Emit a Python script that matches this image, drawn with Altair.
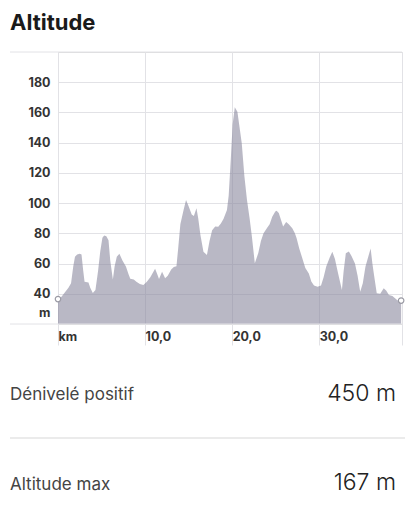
import altair as alt
import pandas as pd

# Elevation profile (distance in km, altitude in m)
km = [0.0, 0.4, 0.8, 1.2, 1.5, 1.75, 1.95, 2.2, 2.5, 2.7, 2.9, 3.05, 3.5, 3.7, 4.0, 4.3, 4.6, 4.85,
      5.1, 5.3, 5.55, 5.8, 6.0, 6.3, 6.5, 6.75, 7.05, 7.4, 7.8, 8.1, 8.3, 8.7, 9.0, 9.4, 9.8, 10.2,
      10.6, 11.15, 11.4, 11.6, 11.95, 12.3, 12.6, 13.0, 13.3, 13.6, 13.8, 14.05, 14.4, 14.7, 15.0,
      15.35, 15.6, 15.9, 16.1, 16.35, 16.7, 17.1, 17.4, 17.7, 18.05, 18.4, 18.7, 19.0, 19.4, 19.6,
      19.85, 20.05, 20.3, 20.6, 20.85, 21.1, 21.4, 21.7, 22.0, 22.26, 22.6, 23.0, 23.3, 23.6, 24.0,
      24.3, 24.6, 24.95, 25.1, 25.35, 25.6, 25.85, 26.2, 26.5, 26.9, 27.2, 27.4, 27.7, 28.0, 28.4,
      28.8, 29.1, 29.4, 29.8, 30.2, 30.5, 30.8, 31.2, 31.5, 31.8, 32.1, 32.6, 32.8, 33.05, 33.4,
      33.7, 34.1, 34.4, 34.7, 35.0, 35.3, 35.6, 35.9, 36.1, 36.3, 36.6, 37.0, 37.4, 37.7, 38.0,
      38.4, 38.7, 39.0, 39.4]
alt_m = [36.5, 38, 41, 44, 47, 58, 64.5, 66, 66.5, 66, 55, 48, 47.5, 44, 40.5, 42.5, 55, 68,
         77, 78.5, 78, 75.5, 62, 49.5, 58, 64.5, 66.5, 62, 58, 53, 50, 49.5, 48, 46.5, 45.8, 48,
         51, 56.5, 53, 49.8, 54.6, 50.2, 52, 56, 57.8, 58.2, 70, 86, 95, 102, 98,
         92.5, 91.5, 96.6, 90, 79, 67.8, 65.7, 75, 82, 84.6, 84.4, 86.5, 89.5, 95.4, 105,
         130, 152, 163.5, 160.5, 150, 139.6, 118, 102, 90, 78, 60.2, 67, 75, 80, 83.5,
         86, 91, 94.5, 95, 93.5, 89, 84.5, 87.5, 86, 83.3, 80, 76.7, 70, 64.5, 57,
         53.5, 48, 45.5, 44.7, 45.5, 51, 58, 64, 67.8, 63, 55, 42.5, 55, 66.8, 68,
         65, 60, 52, 41.4, 47, 57.9, 64, 70, 60, 52, 40.3, 40, 43.6, 42, 39.2,
         38.5, 37, 35.5, 35.5]

x_ticks = [0, 10, 20, 30, 39.5]
y_ticks = [27.3, 40, 60, 80, 100, 120, 140, 160, 180]

title_text = ["Altitude"]
stat_labels = ["Dénivelé positif", "Altitude max"]
stat_values = ["450 m", "167 m"]

W, H = 344, 272
FONT = "Inter"
GRID = "#e2e2e6"

prof = pd.DataFrame({"km": km, "alt": alt_m})
ends = prof.iloc[[0, -1]]

xs = alt.Scale(domain=[0, 39.5], nice=False, zero=False)
ys = alt.Scale(domain=[20, 200], nice=False, zero=False)

x_axis = alt.Axis(
    values=x_ticks, title=None, domain=False, grid=True, gridColor=GRID,
    ticks=True, tickSize=21, tickColor=GRID, labelPadding=-15,
    labelAlign="left", labelFont=FONT, labelFontSize=12.5,
    labelFontWeight="bold", labelColor="#333333", labelOverlap=False,
    labelExpr="datum.value == 0 ? ' km' : (datum.value > 39 ? '' : ' ' + replace(format(datum.value, '.1f'), '.', ','))")
y_axis = alt.Axis(
    values=y_ticks, title=None, domain=False, grid=True, gridColor=GRID,
    gridOpacity=alt.condition("datum.value < 30", alt.value(0), alt.value(1)),
    ticks=False, labelPadding=8, labelFont=FONT, labelFontSize=12.5,
    labelFontWeight="bold", labelColor="#333333", labelOverlap=False,
    labelExpr="datum.value < 30 ? 'm' : datum.label")

area = alt.Chart(prof).mark_area(color="#8a889e", opacity=0.6, interpolate="linear", clip=True).encode(
    x=alt.X("km:Q", scale=xs, axis=x_axis),
    y=alt.Y("alt:Q", scale=ys, axis=y_axis),
    y2=alt.datum(20),
)

points = alt.Chart(ends).mark_point(filled=True, fill="white", stroke="#9a9aa4",
                                    strokeWidth=1.2, size=30, opacity=1).encode(
    x=alt.X("km:Q", scale=xs, axis=x_axis), y=alt.Y("alt:Q", scale=ys, axis=y_axis))

top_line = alt.Chart(pd.DataFrame({"a": [0]})).mark_rule(color=GRID, strokeWidth=1).encode(
    x=alt.value(-48), x2=alt.value(W), y=alt.value(0))
bottom_line = alt.Chart(pd.DataFrame({"a": [0]})).mark_rule(color=GRID, strokeWidth=1).encode(
    x=alt.value(-48), x2=alt.value(W), y=alt.value(H))
sep_line = alt.Chart(pd.DataFrame({"a": [0]})).mark_rule(color="#e4e4e4", strokeWidth=1.5).encode(
    x=alt.value(-48), x2=alt.value(W + 3), y=alt.value(386))

title = alt.Chart(pd.DataFrame({"t": title_text})).mark_text(
    align="left", baseline="alphabetic", font=FONT, fontSize=22, fontWeight="bold",
    color="#1a1a1a").encode(text="t:N", x=alt.value(-48), y=alt.value(-22))

lab1 = alt.Chart(pd.DataFrame({"t": [stat_labels[0]]})).mark_text(
    align="left", baseline="alphabetic", font=FONT, fontSize=17, color="#444444").encode(
    text="t:N", x=alt.value(-48), y=alt.value(348))
val1 = alt.Chart(pd.DataFrame({"t": [stat_values[0]]})).mark_text(
    align="right", baseline="alphabetic", font=FONT, fontSize=23, fontWeight=300, color="#222222").encode(
    text="t:N", x=alt.value(338), y=alt.value(349))
lab2 = alt.Chart(pd.DataFrame({"t": [stat_labels[1]]})).mark_text(
    align="left", baseline="alphabetic", font=FONT, fontSize=17, color="#444444").encode(
    text="t:N", x=alt.value(-48), y=alt.value(438))
val2 = alt.Chart(pd.DataFrame({"t": [stat_values[1]]})).mark_text(
    align="right", baseline="alphabetic", font=FONT, fontSize=23, fontWeight=300, color="#222222").encode(
    text="t:N", x=alt.value(338), y=alt.value(438))

chart = alt.layer(area, top_line, bottom_line, points, sep_line, title, lab1, val1, lab2, val2).properties(
    width=W, height=H,
    autosize=alt.AutoSizeParams(type="none"),
    padding={"left": 50, "top": 44, "right": 3, "bottom": 178},
).configure_view(stroke=None).configure(background="white")

chart.save("out.html", embed_options={"renderer": "svg", "actions": False})
